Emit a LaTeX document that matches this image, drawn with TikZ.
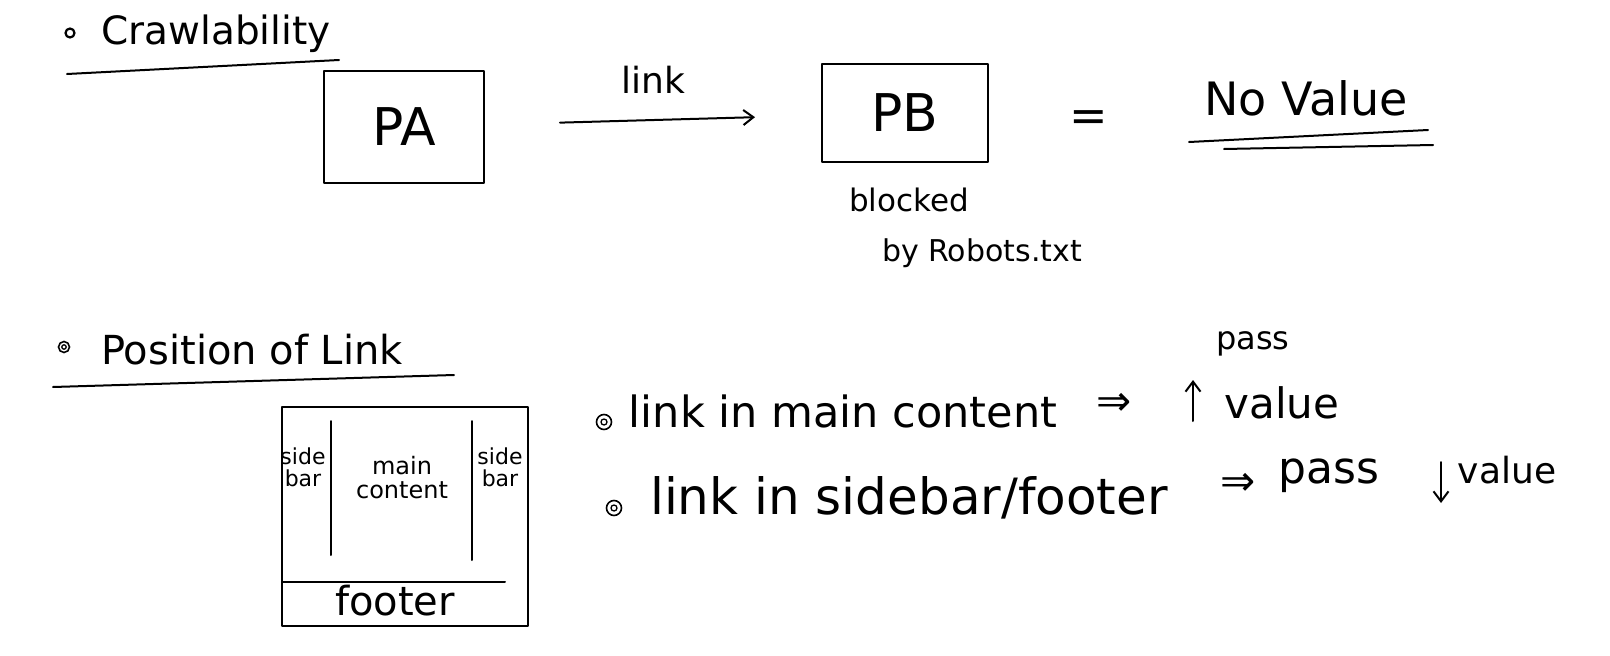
\documentclass[tikz,border=0pt]{standalone}
\usepackage{fontspec}
\setmainfont{DejaVu Sans}
\usetikzlibrary{arrows.meta}
\begin{document}
\begin{tikzpicture}[x=1pt,y=-1pt,
  ink/.style={line width=2pt, line cap=round, line join=round},
  txt/.style={inner sep=0pt, anchor=center},
  fs/.style={font=\fontsize{#1}{#1}\selectfont},
  lines/.style={align=center, font=\fontsize{#1}{#1}\selectfont},
  framebox/.style={draw, ink, rectangle, inner sep=0pt},
  dotbullet/.style={circle, draw, line width=2.2pt, minimum size=9pt, inner sep=0pt},
  atbullet/.style={circle, draw, line width=1.6pt, minimum size=#1, inner sep=0pt,
     path picture={\draw[line width=1.3pt] (path picture bounding box.center) circle (0.2*#1);}},
  arr/.style={ink, -{Straight Barb[length=10pt,width=15pt,line width=2pt]}},
]
\useasboundingbox (0,0) rectangle (1610,656);

% ---------- Crawlability ----------
\node[dotbullet] (b1) at (70,33) {};
\node[txt, fs=39] (crawl) at (216,34) {Crawlability};
\coordinate (u1a) at (67,74);
\coordinate (u1b) at (339,60);
\draw[ink] (u1a) -- (u1b);

\node[framebox, minimum width=160pt, minimum height=112pt, fs=52] (PA) at (404,127) {PA};
\node[framebox, minimum width=166pt, minimum height=98pt, fs=52] (PB) at (905,113) {PB};
\draw[arr, shorten <=75pt, shorten >=66pt] (PA) -- node[txt, fs=36, above=26pt] (lnk) {link} (PB);

\node[txt, fs=31] (blk) at (909,200) {blocked};
\node[txt, fs=30] (rob) at (982,253) {by Robots.txt};

\node[txt, fs=46] (eq) at (1089,121) {=};
\node[txt, fs=46] (nov) at (1306,98) {No Value};
\coordinate (u2a) at (1189,142);
\coordinate (u2b) at (1428,130);
\coordinate (u3a) at (1224,149);
\coordinate (u3b) at (1433,145);
\draw[ink] (u2a) -- (u2b);
\draw[ink] (u3a) -- (u3b);

% ---------- Position of Link ----------
\node[atbullet=11pt] (b2) at (64,347) {};
\node[txt, fs=40] (pos) at (252,350) {Position of Link};
\coordinate (u4a) at (53,387);
\coordinate (u4b) at (454,375);
\draw[ink] (u4a) -- (u4b);

% page layout
\node[framebox, minimum width=246pt, minimum height=219pt] (page) at (405,516.5) {};
\coordinate (d1a) at (331,421);
\coordinate (d1b) at (331,555);
\coordinate (d2a) at (472,421);
\coordinate (d2b) at (472,560);
\coordinate (f1a) at (282,582);
\coordinate (f1b) at (505,582);
\draw[ink] (d1a) -- (d1b);
\draw[ink] (d2a) -- (d2b);
\draw[ink] (f1a) -- (f1b);
\node[txt, lines=22] (sbl) at (303,467) {side\\bar};
\node[txt, lines=24] (mc) at (402,478) {main\\content};
\node[txt, lines=22] (sbr) at (500,467) {side\\bar};
\node[txt, fs=40] (foot) at (395,601) {footer};

% statements
\node[atbullet=15pt] (b3) at (604,422) {};
\node[txt, fs=43] (s1) at (843,411) {link in main content};
\node[txt, fs=42] (imp1) at (1114,404) {⇒};
\coordinate (up1) at (1193,421);
\coordinate (up2) at (1193,380);
\draw[arr] (up1) -- (up2);
\node[txt, fs=32] (pass1) at (1253,344) {pass};
\node[txt, fs=42] (val1) at (1282,403) {value};

\node[atbullet=15pt] (b4) at (614,508) {};
\node[txt, fs=50] (s2) at (909,498) {link in sidebar/footer};
\node[txt, fs=42] (imp2) at (1238,484) {⇒};
\node[txt, fs=44] (pass2) at (1329,476) {pass};
\coordinate (dn1) at (1441,462);
\coordinate (dn2) at (1441,503);
\draw[arr] (dn1) -- (dn2);
\node[txt, fs=36] (val2) at (1507,470) {value};
\end{tikzpicture}
\end{document}
